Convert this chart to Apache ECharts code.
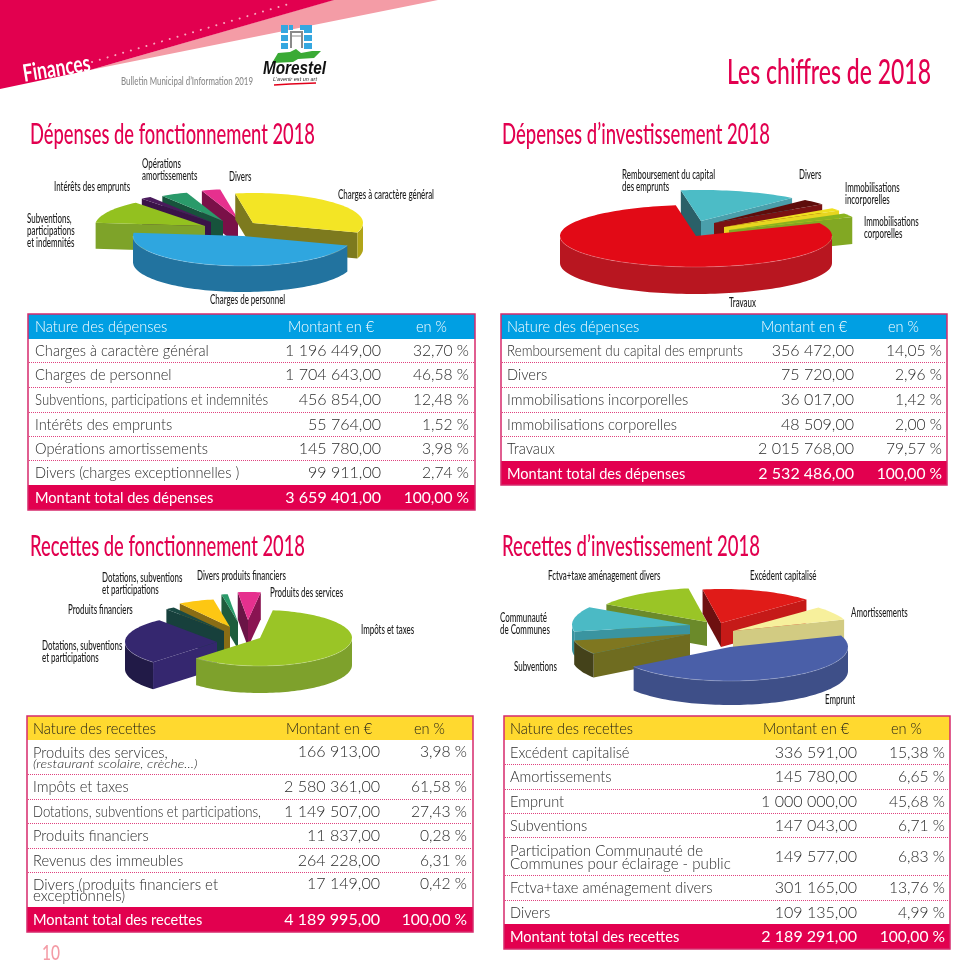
<!DOCTYPE html>
<html><head><meta charset="utf-8">
<style>html,body{margin:0;padding:0;background:#fff}#c{width:977px;height:977px}</style>
<script src="https://cdn.jsdelivr.net/npm/echarts@6/dist/echarts.min.js"></script>
</head><body><div id="c"></div>
<script>
// ---------- DATA ----------
const depFoncNames = ['Charges à caractère général','Charges de personnel','Subventions, participations et indemnités','Intérêts des emprunts','Opérations amortissements','Divers (charges exceptionnelles )'];
const depFoncAmounts = [1196449,1704643,456854,55764,145780,99911];
const depFoncPercents = [32.70,46.58,12.48,1.52,3.98,2.74];
const depFoncTotal = [3659401,100];
const depFoncPieLabels = ['Charges à caractère général','Charges de personnel','Subventions,\nparticipations\net indemnités','Intérêts des emprunts','Opérations\namortissements','Divers'];
const depFoncShares = [32.70,46.58,12.48,1.52,3.98,2.74];

const depInvNames = ['Remboursement du capital des emprunts','Divers','Immobilisations incorporelles','Immobilisations corporelles','Travaux'];
const depInvAmounts = [356472,75720,36017,48509,2015768];
const depInvPercents = [14.05,2.96,1.42,2.00,79.57];
const depInvTotal = [2532486,100];
const depInvPieLabels = ['Travaux','Remboursement du capital\ndes emprunts','Divers','Immobilisations\nincorporelles','Immobilisations\ncorporelles'];
const depInvShares = [79.57,14.05,2.96,1.42,2.00];

const recFoncNames = ['Produits des services,','Impôts et taxes','Dotations, subventions et participations,','Produits financiers','Revenus des immeubles','Divers (produits financiers et\nexceptionnels)'];
const recFoncAmounts = [166913,2580361,1149507,11837,264228,17149];
const recFoncPercents = [3.98,61.58,27.43,0.28,6.31,0.42];
const recFoncTotal = [4189995,100];
const recFoncNote = '(restaurant scolaire, crèche...)';
const recFoncPieLabels = ['Impôts et taxes','Dotations, subventions\net participations','Produits financiers','Dotations, subventions\net participations','Divers produits financiers','Produits des services'];
// shares as the drawn pie shows them
const recFoncShares = [60.0,27.0,1.6,6.3,1.1,4.0];

const recInvNames = ['Excédent capitalisé','Amortissements','Emprunt','Subventions','Participation Communauté de\nCommunes pour éclairage - public','Fctva+taxe aménagement divers','Divers'];
const recInvAmounts = [336591,145780,1000000,147043,149577,301165,109135];
const recInvPercents = [15.38,6.65,45.68,6.71,6.83,13.76,4.99];
const recInvTotal = [2189291,100];
const recInvPieLabels = ['Excédent capitalisé','Amortissements','Emprunt','Subventions','Communauté\nde Communes','Fctva+taxe aménagement divers'];
const recInvShares = [15.38,6.65,45.68,6.71,11.82,13.76];

// ---------- STYLE / LAYOUT ----------
const CRIMSON='#e2004f', BODY='Lato';
const measure=document.createElement('canvas').getContext('2d');
function fit(text,font,w){measure.font=font;return w/measure.measureText(text).width;}

// colours per slice: top, light radial wall, dark radial wall, outer wall
const pies=[
 {shares:depFoncShares,labels:depFoncPieLabels,c:[240,225],rx:110,ry:30,d:26,start:-99.3,
  off:[[13,-2],[3,11],[-35,1],[-29,-3],[-17,-4],[-2,-6]],order:[5,4,3,0,2,1],
  col:[['#f3e525','#b0a418','#7d7a1e','#b0a418'],['#2fa6df','#22739f','#22739f','#22739f'],['#93c11f','#7ea329','#7ea329','#7ea329'],['#4a1a5c','#3a1248','#3a1248','#3a1248'],['#2a9a6a','#17533c','#17533c','#17533c'],['#e6308e','#7a1048','#7a1048','#7a1048']],
  labelPos:[[338,195],[210,300],[27,219],[54,187],[142,164],[229,177]]},
 {shares:depInvShares,labels:depInvPieLabels,c:[696,236],rx:136,ry:31,d:27,start:-25,
  off:[[0,0],[5,-15],[18,-13],[28,-9],[33,-6]],order:[1,2,3,4,0],
  col:[['#e20a16','#b81620','#8e1018','#b81620'],['#4cbcc6','#4a9fab','#2a6068','#4a9fab'],['#5e0d0b','#7a1212','#5e0d0b','#7a1212'],['#efe020','#e8d61f','#b8aa18','#e8d61f'],['#8ab41f','#82a823','#6c8c1e','#82a823']],
  labelPos:[[729,303],[622,175],[799,175],[845,188],[864,222]]},
 {shares:recFoncShares,labels:recFoncPieLabels,c:[240,635],rx:92,ry:28,d:27,start:-82,
  off:[[20,3],[-23,7],[-16,-4],[-10,-8],[-2,-13],[8,-15]],order:[5,4,3,2,1,0],
  col:[['#9ac526','#7ea12c','#6f8f28','#7ea12c'],['#35276f','#35276f','#211a47','#211a47'],['#1a4a44','#17403c','#17403c','#17403c'],['#fdc713','#a8851a','#8a6d15','#a8851a'],['#2a9a6a','#1e5c3c','#1e5c3c','#1e5c3c'],['#e6308e','#8a1452','#6b1446','#8a1452']],
  labelPos:[[361,630],[42,646],[68,610],[102,578],[197,576],[270,593]]},
 {shares:recInvShares,labels:recInvPieLabels,c:[725,630],rx:118,ry:34,d:24,start:-99,
  off:[[-4,-7],[8,1],[5,17],[-35,4],[-35,-5],[-18,-8]],order:[5,4,0,1,3,2],
  col:[['#e01b18','#c51a18','#6e1010','#c51a18'],['#f7f09c','#d2cb82','#b0aa6a','#d2cb82'],['#4a5fa8','#3e4f88','#3e4f88','#3e4f88'],['#7f7720','#6f6c20','#44421a','#44421a'],['#4bbac5','#3a94a0','#2f7d88','#3a94a0'],['#9ac526','#6b8a2a','#6b8a2a','#6b8a2a']],
  labelPos:[[750,576],[851,613],[825,700],[514,667],[500,618],[548,576]]}
];

const tables=[
 {names:depFoncNames,amounts:depFoncAmounts,pcts:depFoncPercents,total:depFoncTotal,head:'Nature des dépenses',foot:'Montant total des dépenses',headFill:'#009fe3',headText:'#fff',nameMax:233,
  box:[28,475],tops:[314,339,362,387,412,436,460,485,510],textX:35,amtX:381,pctX:469,monX:288,enX:416},
 {names:depInvNames,amounts:depInvAmounts,pcts:depInvPercents,total:depInvTotal,head:'Nature des dépenses',foot:'Montant total des dépenses',headFill:'#009fe3',headText:'#fff',nameMax:236,
  box:[501,947],tops:[314,339,362,387,412,436,461,485],textX:507,amtX:854,pctX:942,monX:761,enX:888},
 {names:recFoncNames,amounts:recFoncAmounts,pcts:recFoncPercents,total:recFoncTotal,head:'Nature des recettes',foot:'Montant total des recettes',headFill:'#ffd92f',headText:'#1a1a1a',note:recFoncNote,nameMax:228,
  box:[27,473],tops:[716,740,774,799,823,848,872,907,932],textX:33,amtX:380,pctX:467,monX:286,enX:414},
 {names:recInvNames,amounts:recInvAmounts,pcts:recInvPercents,total:recInvTotal,head:'Nature des recettes',foot:'Montant total des recettes',headFill:'#ffd92f',headText:'#1a1a1a',nameMax:240,
  box:[504,950],tops:[716,740,764,789,813,837,875,900,924,949],textX:510,amtX:857,pctX:945,monX:763,enX:891}
];

const titles=[
 ['Dépenses de fonctionnement 2018',30,135,285],['Dépenses d’investissement 2018',502,135,268],
 ['Recettes de fonctionnement 2018',30,547,275],['Recettes d’investissement 2018',502,547,258]
];

// ---------- HELPERS ----------
const fmtAmt=v=>String(v).replace(/\B(?=(\d{3})+$)/g,' ')+',00';
const fmtPct=v=>v.toFixed(2).replace('.',',')+' %';
const BODYFONT='300 14.6px '+BODY, FOOTFONT='14.6px '+BODY, INK='#2b2b2b', NUMSX=1.1, PCTSX=1.07;
function txt(text,x,y,fill,font,align,sx,extra){
  return Object.assign({type:'text',x:x,y:y,scaleX:sx||1,silent:true,style:{text:text,x:0,y:0,fill:fill,font:font,align:align||'left',verticalAlign:'middle'}},extra||{});
}
const nameScale=(s,t)=>Math.min(1,fit(s,BODYFONT,t.nameMax));
const graphics=[];
// page header
graphics.push({type:'polygon',shape:{points:[[333,0],[438,0],[90,70]]},style:{fill:'#f49ca6'}});
graphics.push({type:'polygon',shape:{points:[[0,0],[334,0],[90,70],[0,89]]},style:{fill:CRIMSON}});
graphics.push({type:'line',shape:{x1:92,y1:62,x2:292,y2:3},style:{stroke:'#f7a6bd',lineWidth:2,lineDash:[0.1,8],lineCap:'round'}});
const FIN='bold 24px '+BODY;
graphics.push(txt('Finances',23,74,'#fff',FIN,'left',fit('Finances',FIN,68),{rotation:0.16}));
const BUL='500 11px '+BODY;
graphics.push(txt('Bulletin Municipal d’Information 2019',121,81,'#8a8a8a',BUL,'left',fit('Bulletin Municipal d’Information 2019',BUL,132)));
const TFB='500 34px '+BODY;
graphics.push(txt('Les chiffres de 2018',727,73,CRIMSON,TFB,'left',fit('Les chiffres de 2018',TFB,204)));
graphics.push(txt('10',42,953,'#f49ca6','500 21px '+BODY,'left',fit('10','500 21px '+BODY,18)));
// logo
[[281,25,7,8],[281,35,7,6],[281,43,7,6],[304,25,8,8],[304,35,8,6],[304,43,8,6],[289,25,4,5],[300,25,4,5]].forEach(r=>graphics.push({type:'rect',shape:{x:r[0],y:r[1],width:r[2],height:r[3]},style:{fill:'#35a7e0'}}));
graphics.push({type:'polyline',shape:{points:[[291,48],[291,32],[302,32],[302,48]]},style:{stroke:'#8a8a8a',fill:'none',lineWidth:2}});
graphics.push({type:'line',shape:{x1:291,y1:36,x2:302,y2:36},style:{stroke:'#8a8a8a',lineWidth:1}});
graphics.push({type:'polygon',shape:{points:[[272,63],[278,53],[290,52],[296,49],[301,53],[312,51],[321,51],[314,58],[298,59],[293,62]]},style:{fill:'#3aaa35'}});
graphics.push(txt('Morestel',263,69,'#111','italic bold 18px "Liberation Sans"','left',fit('Morestel','italic bold 18px "Liberation Sans"',63)));
graphics.push(txt('L’avenir est un art',273,79,'#333','italic 6px "Liberation Sans"','left',fit('L’avenir est un art','italic 6px "Liberation Sans"',44)));
graphics.push({type:'polyline',shape:{points:[[274,85],[290,84],[316,83]]},style:{stroke:'#e2001a',lineWidth:1.4,fill:'none'}});
// section titles
const TF='500 29px '+BODY;
titles.forEach(t=>graphics.push(txt(t[0],t[1],t[2],CRIMSON,TF,'left',fit(t[0],TF,t[3]))));
// pie labels
const LF='500 12.5px '+BODY, LSX=fit('Charges à caractère général',LF,96);
pies.forEach(p=>p.labels.forEach((l,i)=>{
  l.split('\n').forEach((line,k)=>graphics.push(txt(line,p.labelPos[i][0],p.labelPos[i][1]+k*12,'#1a1a1a',LF,'left',LSX)));
}));
// tables
tables.forEach(t=>{
  const L=t.box[0],R=t.box[1],T=t.tops,n=t.names.length;
  const top=T[0],head=T[1],footTop=T[n+1],bot=T[n+2];
  graphics.push({type:'rect',shape:{x:L,y:top,width:R-L,height:head-top},style:{fill:t.headFill}});
  graphics.push({type:'rect',shape:{x:L,y:footTop,width:R-L,height:bot-footTop},style:{fill:CRIMSON}});
  graphics.push({type:'rect',shape:{x:L,y:top,width:R-L,height:bot-top},style:{fill:'none',stroke:'#d62a6c',lineWidth:1.5}});
  const hy=(top+head)/2+1;
  graphics.push(txt(t.head,t.textX,hy,t.headText,BODYFONT,'left',1));
  graphics.push(txt('Montant en €',t.monX,hy,t.headText,BODYFONT,'left',1));
  graphics.push(txt('en %',t.enX,hy,t.headText,BODYFONT,'left',1));
  t.names.forEach((name,i)=>{
    const a=T[i+1],b=T[i+2],two=b-a>30,mid=(a+b)/2+1;
    if(i>0)graphics.push({type:'line',shape:{x1:L+1,y1:a+.5,x2:R-1,y2:a+.5},style:{stroke:'#e0427f',lineWidth:1,lineDash:[1,1]}});
    const y=two?(t.note||name.indexOf('Divers')===0?a+12:mid):mid;
    graphics.push(txt(fmtAmt(t.amounts[i]),t.amtX,y,INK,BODYFONT,'right',NUMSX));
    graphics.push(txt(fmtPct(t.pcts[i]),t.pctX,y,INK,BODYFONT,'right',PCTSX));
    if(two){
      const lines=name.split('\n');
      if(lines.length>1){
        const y0=name.indexOf('Divers')===0?a+13:a+14, dy=name.indexOf('Divers')===0?11:13;
        lines.forEach((s,k)=>graphics.push(txt(s,t.textX,y0+k*dy,INK,BODYFONT,'left',1.03)));
      } else {
        graphics.push(txt(name,t.textX,a+13,INK,BODYFONT,'left',1));
        graphics.push(txt(t.note,t.textX,a+24,INK,'italic 300 12.5px '+BODY,'left',1.12));
      }
    } else graphics.push(txt(name,t.textX,mid,INK,BODYFONT,'left',nameScale(name,t)));
  });
  const fy=(footTop+bot)/2+1;
  graphics.push(txt(t.foot,t.textX,fy,'#fff',FOOTFONT,'left',1));
  graphics.push(txt(fmtAmt(t.total[0]),t.amtX,fy,'#fff',FOOTFONT,'right',NUMSX));
  graphics.push(txt(fmtPct(t.total[1]),t.pctX,fy,'#fff',FOOTFONT,'right',PCTSX));
});

// ---------- PIE SERIES ----------
function pieSeries(p){
  let acc=p.start; const ang=p.shares.map(v=>{const a0=acc;acc+=v/100*360;return [a0,acc];});
  return {type:'custom',coordinateSystem:'none',silent:true,animation:false,clip:false,z:3,
    data:p.shares.map(v=>[v]),
    renderItem:function(params,api){
      const i=params.dataIndex,[a0,a1]=ang[i],o=p.off[i],dk=p.d,col=p.col[i];
      const cx=p.c[0]+o[0],cy=p.c[1]+o[1];
      const pt=(a,dy)=>{const r=a*Math.PI/180;return [cx+p.rx*Math.cos(r),cy+p.ry*Math.sin(r)+(dy||0)];};
      const arc=(s,e,dy)=>{const n=Math.max(2,Math.ceil((e-s)/2)),out=[];for(let k=0;k<=n;k++)out.push(pt(s+(e-s)*k/n,dy));return out;};
      const z=p.order.indexOf(i)*10;
      const kids=[];
      const radial=(a,side)=>{
        const rad=(a+side*90)*Math.PI/180;
        if(Math.sin(rad)<=0)return; // wall faces away from the viewer
        const q=pt(a),q2=pt(a,dk);
        kids.push({type:'polygon',z2:z,shape:{points:[[cx,cy],q,q2,[cx,cy+dk]]},style:{fill:Math.cos(rad)<0?col[2]:col[1]}});
      };
      radial(a0,-1);radial(a1,1);
      for(let k=-1;k<=1;k++){
        const s=Math.max(a0,k*360),e=Math.min(a1,k*360+180);
        if(e>s){
          const up=arc(s,e,0),dn=arc(s,e,dk).reverse();
          kids.push({type:'polygon',z2:z+1,shape:{points:up.concat(dn)},style:{fill:col[3]}});
          kids.push({type:'polyline',z2:z+3,shape:{points:up},style:{fill:'none',stroke:'rgba(255,255,255,0.35)',lineWidth:0.6}});
        }
      }
      kids.push({type:'polygon',z2:z+2,shape:{points:[[cx,cy]].concat(arc(a0,a1,0))},style:{fill:col[0]}});
      return {type:'group',children:kids};
    }};
}
const chart=echarts.init(document.getElementById('c'),null,{renderer:'canvas'});
chart.setOption({animation:false,backgroundColor:'#fff',graphic:{elements:graphics},series:pies.map(pieSeries)});
</script></body></html>
